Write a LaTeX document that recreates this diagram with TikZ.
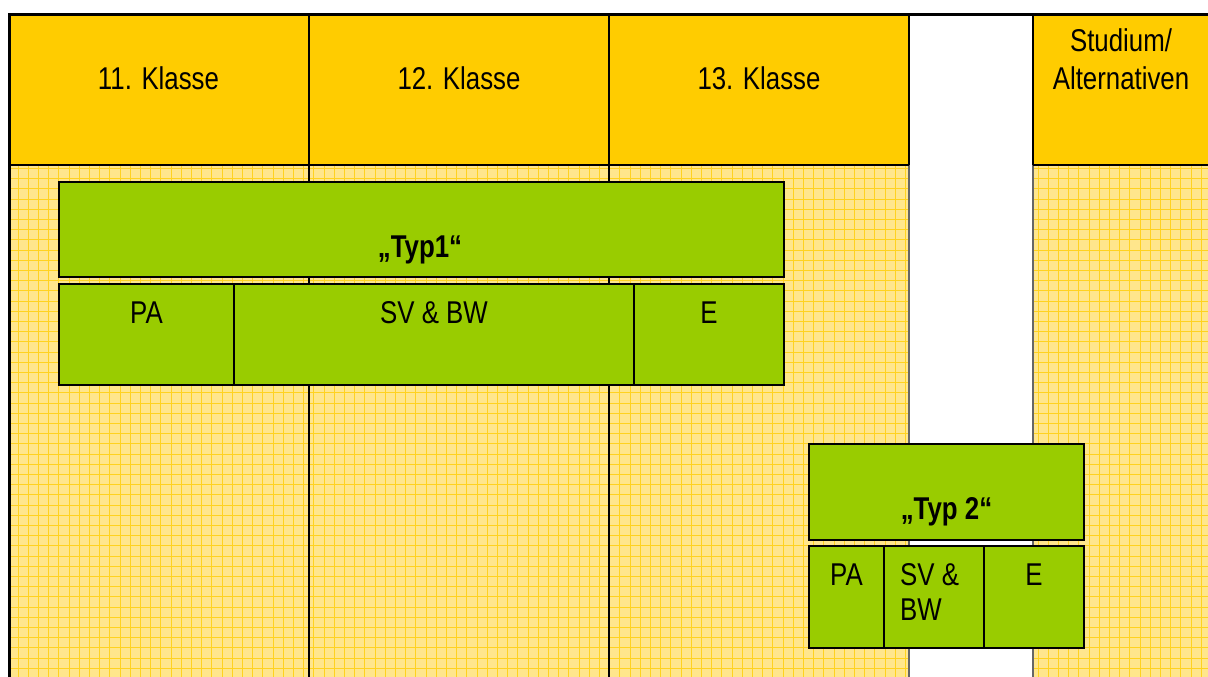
\documentclass[tikz,border=0pt]{standalone}
\usepackage{fontspec}
\setmainfont{Liberation Sans}[FakeStretch=0.82]
\definecolor{hdr}{HTML}{FFCC00}
\definecolor{gbg}{HTML}{FFE68C}
\definecolor{gline}{HTML}{FFD21F}
\definecolor{grn}{HTML}{99CC00}
\begin{document}
\begin{tikzpicture}[x=1pt,y=-1pt,
  txt/.style={inner sep=0pt, anchor=base, font=\fontsize{31.5}{38}\selectfont},
  btxt/.style={txt, font=\fontsize{31.5}{38}\selectfont\bfseries},
  gbox/.style={draw=black, line width=2pt, fill=grn, anchor=north west, inner sep=0pt, outer sep=0pt},
  colline/.style={draw=black, line width=2pt},
  gapline/.style={draw=black!60, line width=2pt}]
\useasboundingbox (0,0) rectangle (1208,677);
\fill[white] (0,0) rectangle (1208,677);
% grid background
\begin{scope}
\clip (8,165) rectangle (909,677) (1033,165) rectangle (1208,677);
\fill[gbg] (0,160) rectangle (1208,677);
\foreach \i in {0,...,117} {\draw[gline, line width=1pt] (18+10.2*\i,160) -- (18+10.2*\i,677);}
\foreach \j in {0,...,50} {\draw[gline, line width=1pt] (0,168.5+10.2*\j) -- (1208,168.5+10.2*\j);}
\end{scope}
% header
\fill[hdr] (8,14) rectangle (909,165);
\fill[hdr] (1033,14) rectangle (1208,165);
\draw[gapline] (909,165) -- (909,677);
\draw[gapline] (1033,165) -- (1033,677);
\draw[colline] (909,14) -- (909,165);
\draw[colline] (1033,14) -- (1033,165);
\draw[colline] (8,165) -- (909,165);
\draw[colline] (1033,165) -- (1208,165);
\draw[colline] (309,14) -- (309,677);
\draw[colline] (609,14) -- (609,677);
\draw[black, line width=3pt] (9,677) -- (9,14.5) -- (1208,14.5);
% header texts
\node[txt] (h11) at (158.5,89.5) {11. Klasse};
\node[txt] (h12) at (459,89.5) {12. Klasse};
\node[txt] (h13) at (759,89.5) {13. Klasse};
\node[txt] (hst1) at (1121,52) {Studium/};
\node[txt] (hst2) at (1121,89) {Alternativen};
% Typ1
\node[gbox, minimum width=725pt, minimum height=95pt] (t1) at (59,182) {};
\node[gbox, minimum width=175pt, minimum height=101pt] (t1pa) at (59,284) {};
\node[gbox, minimum width=400pt, minimum height=101pt] (t1sv) at (234,284) {};
\node[gbox, minimum width=150pt, minimum height=101pt] (t1e) at (634,284) {};
\node[btxt] (t1l) at (420,257) {„Typ1“};
\node[txt] (t1pal) at (146.5,323) {PA};
\node[txt] (t1svl) at (434,323) {SV \& BW};
\node[txt] (t1el) at (709,323) {E};
% Typ2
\node[gbox, minimum width=275pt, minimum height=96pt] (t2) at (809,444) {};
\node[gbox, minimum width=75pt, minimum height=102pt] (t2pa) at (809,546) {};
\node[gbox, minimum width=100pt, minimum height=102pt] (t2sv) at (884,546) {};
\node[gbox, minimum width=100pt, minimum height=102pt] (t2e) at (984,546) {};
\node[btxt] (t2l) at (946.5,519) {„Typ 2“};
\node[txt] (t2pal) at (846.5,585) {PA};
\node[txt, anchor=base west] (t2sv1) at (900,585) {SV \&};
\node[txt, anchor=base west] (t2sv2) at (900,620) {BW};
\node[txt] (t2el) at (1034,585) {E};
\end{tikzpicture}
\end{document}
